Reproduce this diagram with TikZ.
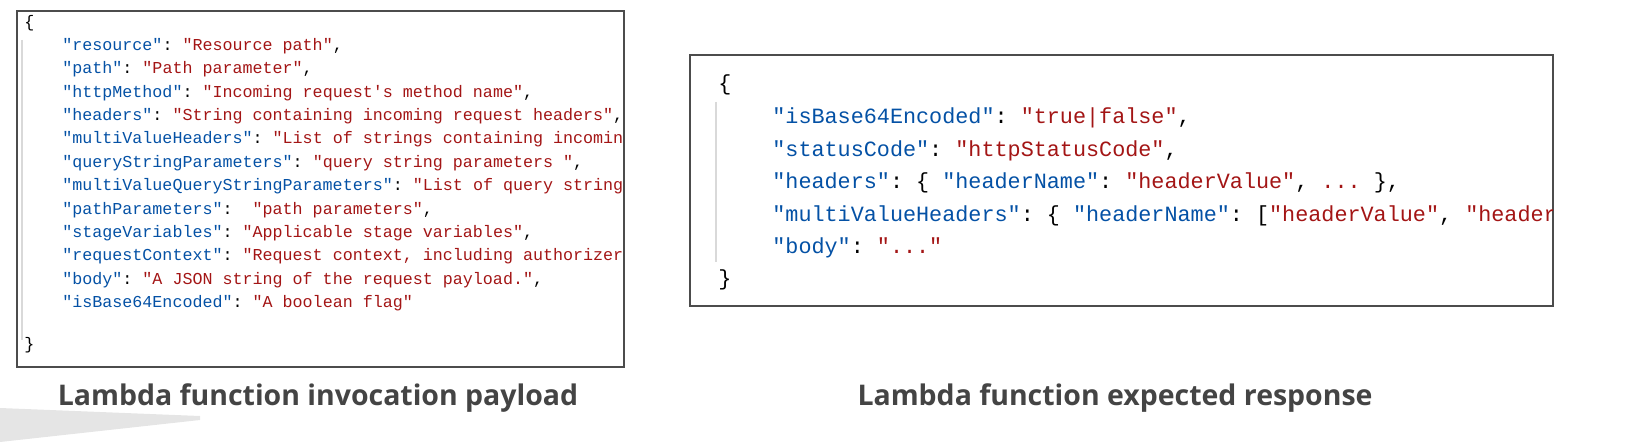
\documentclass[tikz,border=0pt]{standalone}
\usepackage{fontspec}
\setmainfont{Open Sans}
\setmonofont{Liberation Mono}
\usetikzlibrary{positioning}
\definecolor{jsonkey}{HTML}{0451A5}
\definecolor{jsonval}{HTML}{A31515}
\definecolor{captiongray}{HTML}{444444}
\newcommand{\jk}[1]{\textcolor{jsonkey}{"#1"}}
\newcommand{\jv}[1]{\textcolor{jsonval}{"#1"}}
\tikzset{
codebox/.style={draw=black!70, line width=0.8pt},
smallcode/.style={anchor=west, inner sep=0pt, font=\ttfamily\fontsize{9.5}{11}\selectfont},
bigcode/.style={anchor=west, inner sep=0pt, font=\ttfamily\fontsize{12.4}{14}\selectfont},
guide/.style={draw=black!15, line width=1pt},
caption/.style={font=\bfseries\fontsize{16.2}{20}\selectfont, text=captiongray}
}
\begin{document}
\begin{tikzpicture}[x=0.02cm, y=-0.02cm]
	\useasboundingbox (0,0) rectangle (1629,442);
	\fill[black!10] (0,408) -- (200,416) -- (200,420) -- (0,442) -- cycle;
	
	%
	\draw[codebox] (17,11) rectangle (624,367);
	\begin{scope}
		\clip (18,12) rectangle (623,366);
		\node[smallcode] (lopen) at (24,23) {\{};
		\draw[guide] (22,40) -- (22,340);
		\node[smallcode] (l1) at (62,46) {\jk{resource}: \jv{Resource path},};
		\node[smallcode] (l2) at (62,69.4) {\jk{path}: \jv{Path parameter},};
		\node[smallcode] (l3) at (62,92.8) {\jk{httpMethod}: \jv{Incoming request's method name},};
		\node[smallcode] (l4) at (62,116.2) {\jk{headers}: \jv{String containing incoming request headers},};
		\node[smallcode] (l5) at (62,139.6) {\jk{multiValueHeaders}: \jv{List of strings containing incoming request headers},};
		\node[smallcode] (l6) at (62,163) {\jk{queryStringParameters}: \jv{query string parameters },};
		\node[smallcode] (l7) at (62,186.4) {\jk{multiValueQueryStringParameters}: \jv{List of query string parameters},};
		\node[smallcode] (l8) at (62,209.8) {\jk{pathParameters}:~ \jv{path parameters},};
		\node[smallcode] (l9) at (62,233.2) {\jk{stageVariables}: \jv{Applicable stage variables},};
		\node[smallcode] (l10) at (62,256.6) {\jk{requestContext}: \jv{Request context, including authorizer-returned key-value pairs},};
		\node[smallcode] (l11) at (62,280) {\jk{body}: \jv{A JSON string of the request payload.},};
		\node[smallcode] (l12) at (62,303.4) {\jk{isBase64Encoded}: \jv{A boolean flag}};
		\node[smallcode] (lclose) at (24,345) {\}};
	\end{scope}
	\node[caption] (lcap) at (318,398) {Lambda function invocation payload};
	
	%
	\draw[codebox] (690,55) rectangle (1553,306);
	\begin{scope}
		\clip (691,56) rectangle (1552,305);
		\node[bigcode] (ropen) at (718,85) {\{};
		\draw[guide] (716,102) -- (716,262);
		\node[bigcode] (r1) at (772,118) {\jk{isBase64Encoded}: \jv{true|false},};
		\node[bigcode] (r2) at (772,150.5) {\jk{statusCode}: \jv{httpStatusCode},};
		\node[bigcode] (r3) at (772,183) {\jk{headers}: \{ \jk{headerName}: \jv{headerValue}, \textcolor{jsonval}{...} \},};
		\node[bigcode] (r4) at (772,215.5) {\jk{multiValueHeaders}: \{ \jk{headerName}: [\jv{headerValue}, \jv{headerValue2}, ...], ... \},};
		\node[bigcode] (r5) at (772,248) {\jk{body}: \jv{...}};
		\node[bigcode] (rclose) at (718,280) {\}};
	\end{scope}
	\node[caption] (rcap) at (1115,398) {Lambda function expected response};
\end{tikzpicture}
\end{document}
